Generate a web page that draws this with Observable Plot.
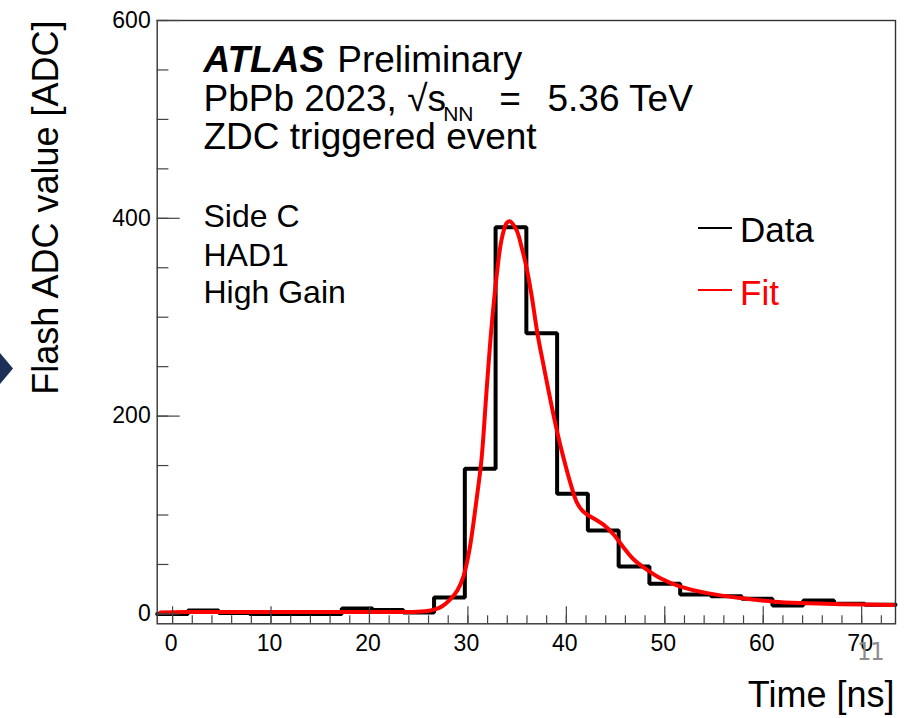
<!DOCTYPE html>
<html>
<head>
<meta charset="utf-8">
<script src="https://cdn.jsdelivr.net/npm/d3@7"></script>
<script src="https://cdn.jsdelivr.net/npm/@observablehq/plot@0.6"></script>
<style>
  html, body { margin: 0; padding: 0; background: #fff; }
  #wrap { position: relative; width: 918px; height: 718px; overflow: hidden; font-family: "Liberation Sans", Arial, sans-serif; }
  #wrap svg { display: block; }
  .sw { position: absolute; left: 698px; width: 34px; height: 2px; }
  .lg { position: absolute; left: 740px; font-size: 35px; line-height: 35px; white-space: nowrap; }
  .page { position: absolute; left: 857px; top: 639px; font-family: "DejaVu Sans Condensed", "DejaVu Sans", sans-serif; font-size: 25px; line-height: 25px; color: #8c8c8c; letter-spacing: -1px; }
  .tri { position: absolute; left: 0; top: 353px; width: 13px; height: 31px; background: #1c2f57; clip-path: polygon(0 0, 100% 50%, 0 100%); }
</style>
</head>
<body>
<div id="wrap"></div>
<script>
// ---- Data ----
const binWidth = 3.125; // ns
const binCenters = [0, 3.125, 6.25, 9.375, 12.5, 15.625, 18.75, 21.875, 25, 28.125, 31.25, 34.375,
                    37.5, 40.625, 43.75, 46.875, 50, 53.125, 56.25, 59.375, 62.5, 65.625, 68.75, 71.875];
const adcValues = [0, 3.5, 1, 0, 0, 0, 5.5, 4, 1.3, 16.6, 146.7, 391, 283.8, 121.5, 84.3, 48, 30.4,
                   19.6, 17.9, 15.3, 8.5, 13.5, 10.2, 9.2];

const fitTime = [-1.23, 2.83, 7.91, 12.99, 18.07, 23.15, 24.85, 26.2, 26.81, 27.42, 28.23, 28.94, 29.55,
                 30.16, 30.87, 31.38, 31.89, 32.40, 32.91, 33.41, 33.92, 34.23, 34.94, 35.45, 35.96, 36.47,
                 37.04, 37.71, 38.39, 39.07, 39.71, 40.42, 41.10, 41.77, 42.79, 43.80, 44.82, 45.83, 46.85,
                 48.21, 49.56, 51.59, 54.31, 57.69, 61.07, 64.47, 67.85, 73.23];
const fitValue = [1.5, 2, 2, 2, 2, 2, 2.2, 3.5, 5, 8, 15, 24, 38,
                  65, 115, 156, 225, 290, 341, 378, 395, 397, 388, 371, 350, 322,
                  285, 250, 216, 184, 158, 132, 112, 103, 96.5, 90, 80, 67, 55,
                  44.5, 36, 27.6, 21, 16, 12.4, 10.8, 9.8, 9.1];

const xTicks = [0, 10, 20, 30, 40, 50, 60, 70];
const xMinorTicks = [0, 2, 4, 6, 8, 10, 12, 14, 16, 18, 20, 22, 24, 26, 28, 30, 32, 34, 36, 38, 40,
                     42, 44, 46, 48, 50, 52, 54, 56, 58, 60, 62, 64, 66, 68, 70, 72];
const yTicks = [0, 200, 400, 600];
const yMinorTicks = [0, 50, 100, 150, 200, 250, 300, 350, 400, 450, 500, 550, 600];

const xTitle = "Time [ns]";
const yTitle = "Flash ADC value [ADC]";
const legendLabels = ["Data", "Fit"];

// ---- Derived tables for the library ----
const steps = binCenters.map((c, i) => ({t: c - binWidth / 2, v: adcValues[i]}));
steps.push({t: binCenters[binCenters.length - 1] + binWidth / 2, v: adcValues[adcValues.length - 1]});
const fit = fitTime.map((t, i) => ({t, v: fitValue[i]}));

const font = "Liberation Sans, Arial, Helvetica, sans-serif";
const T = (s, o) => Plot.text([s], {text: d => d, frameAnchor: "top-left", textAnchor: "start",
                                     lineAnchor: "bottom", fontFamily: font, fill: "black", ...o});

const chart = Plot.plot({
  width: 918,
  height: 718,
  marginLeft: 156.7,
  marginRight: 23,
  marginTop: 20,
  marginBottom: 94.7,
  x: {domain: [-1.5625, 73.4375]},
  y: {domain: [-10, 600]},
  style: {fontFamily: font, background: "white", color: "black", overflow: "visible"},
  marks: [
    Plot.line(steps, {x: "t", y: "v", curve: "step-after", stroke: "black", strokeWidth: 4, strokeLinejoin: "miter"}),
    Plot.line(fit, {x: "t", y: "v", curve: "catmull-rom", stroke: "#ff0000", strokeWidth: 4}),
    Plot.frame({stroke: "#333", strokeWidth: 1.4}),
    Plot.axisX(xMinorTicks, {anchor: "bottom", tickSize: -8, fill: "none", label: null, stroke: "#444", strokeWidth: 1.2}),
    Plot.axisX(xTicks, {anchor: "bottom", tickSize: -17, fill: "none", label: null, stroke: "#444", strokeWidth: 1.2}),
    Plot.axisX(xTicks, {anchor: "bottom", tickSize: 0, tickPadding: 10.5, fontSize: 23, label: null, fill: "black", dx: -1.5}),
    Plot.axisY(yMinorTicks, {anchor: "left", tickSize: -11.7, fill: "none", label: null, stroke: "#444", strokeWidth: 1.2}),
    Plot.axisY(yTicks, {anchor: "left", tickSize: -23, fill: "none", label: null, stroke: "#444", strokeWidth: 1.2}),
    Plot.axisY(yTicks, {anchor: "left", tickSize: 0, tickPadding: 6.5, fontSize: 23, label: null, fill: "black"}),
    // axis titles
    Plot.text([xTitle], {text: d => d, frameAnchor: "bottom-right", textAnchor: "end", lineAnchor: "bottom",
                         dx: -1, dy: 83, fontSize: 36, fontFamily: font, fill: "black"}),
    Plot.text([yTitle], {text: d => d, frameAnchor: "top-left", textAnchor: "end", lineAnchor: "bottom",
                         rotate: -90, dx: -99, dy: 0, fontSize: 36, fontFamily: font, fill: "black"}),
    // annotations
    T("ATLAS", {dx: 46.3, dy: 51.7, fontSize: 37, fontWeight: "bold", fontStyle: "italic"}),
    T("Preliminary", {dx: 180, dy: 51.7, fontSize: 37}),
    T("PbPb 2023, \u221As", {dx: 46.3, dy: 90, fontSize: 37}),
    T("NN", {dx: 286, dy: 100.5, fontSize: 21}),
    T("=", {dx: 342, dy: 90, fontSize: 37}),
    T("5.36 TeV", {dx: 390.3, dy: 90, fontSize: 37}),
    T("ZDC triggered event", {dx: 46.3, dy: 128.3, fontSize: 37}),
    T("Side C", {dx: 46.3, dy: 206.7, fontSize: 32}),
    T("HAD1", {dx: 46.3, dy: 245.5, fontSize: 32}),
    T("High Gain", {dx: 46.3, dy: 282.5, fontSize: 32})
  ]
});

const wrap = document.getElementById("wrap");
wrap.appendChild(chart);

// legend
const legendColors = ["#000000", "#ff0000"];
const legendLineY = [228.3, 290];
const legendTop = [212.1, 275.4];
legendLabels.forEach((lab, i) => {
  const sw = document.createElement("div");
  sw.className = "sw";
  sw.style.top = (legendLineY[i] - 1) + "px";
  sw.style.background = legendColors[i];
  wrap.appendChild(sw);
  const tx = document.createElement("div");
  tx.className = "lg";
  tx.style.top = legendTop[i] + "px";
  tx.style.color = legendColors[i];
  tx.textContent = lab;
  wrap.appendChild(tx);
});

// slide decorations
const page = document.createElement("div");
page.className = "page";
page.textContent = "11";
wrap.appendChild(page);
const tri = document.createElement("div");
tri.className = "tri";
wrap.appendChild(tri);
</script>
</body>
</html>
